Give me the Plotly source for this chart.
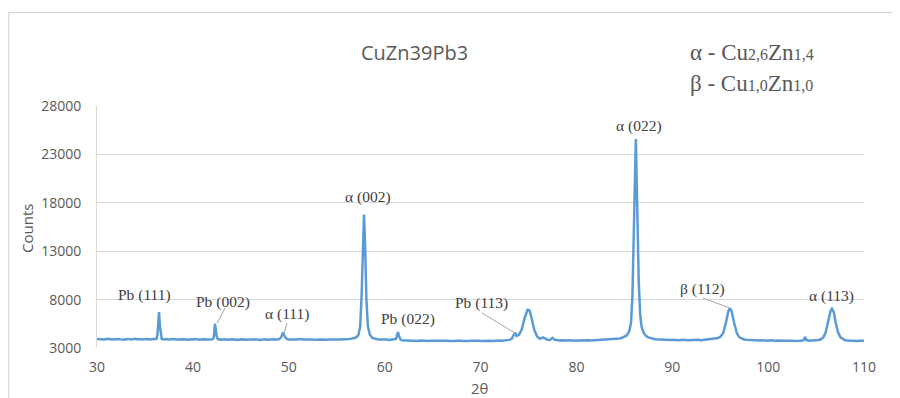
import plotly.graph_objects as go

# ---- data: (2θ, counts) ----
xrd_points = [
    (30.0, 3940), (30.25, 3900), (30.5, 3930), (30.75, 3880), (31.0, 3920), (31.25, 3950),
    (31.5, 3890), (31.75, 3910), (32.0, 3870), (32.25, 3930), (32.5, 3890), (32.75, 3860),
    (33.0, 3910), (33.25, 3940), (33.5, 3880), (33.75, 3900), (34.0, 3950), (34.25, 3880),
    (34.5, 3920), (34.75, 3870), (35.0, 3900), (35.25, 3930), (35.5, 3880), (35.75, 3910),
    (36.0, 3890), (36.2, 3950),
    (36.3, 4300), (36.4, 5600), (36.47, 6700), (36.55, 5400), (36.65, 4200), (36.75, 3930),
    (37.0, 3880), (37.25, 3920), (37.5, 3870), (37.75, 3900), (38.0, 3930), (38.25, 3870),
    (38.5, 3900), (38.75, 3860), (39.0, 3910), (39.25, 3880), (39.5, 3850), (39.75, 3900),
    (40.0, 3870), (40.25, 3920), (40.5, 3880), (40.75, 3860), (41.0, 3900), (41.25, 3870),
    (41.5, 3910), (41.75, 3880), (42.0, 3900), (42.15, 3980),
    (42.22, 4500), (42.3, 5500), (42.38, 5000), (42.48, 4200), (42.6, 3920),
    (42.75, 3880), (43.0, 3860), (43.25, 3900), (43.5, 3870), (43.75, 3850), (44.0, 3890),
    (44.25, 3860), (44.5, 3880), (44.75, 3840), (45.0, 3890), (45.25, 3860), (45.5, 3900),
    (45.75, 3850), (46.0, 3870), (46.25, 3890), (46.5, 3850), (46.75, 3880), (47.0, 3840),
    (47.25, 3870), (47.5, 3900), (47.75, 3850), (48.0, 3880), (48.25, 3860), (48.5, 3900),
    (48.75, 3870), (49.0, 3920), (49.2, 4100), (49.4, 4600), (49.6, 4150), (49.8, 3930),
    (50.0, 3880), (50.25, 3860), (50.5, 3900), (50.75, 3870), (51.0, 3890), (51.25, 3930),
    (51.5, 3880), (51.75, 3900), (52.0, 3940), (52.25, 3890), (52.5, 3870), (52.75, 3900),
    (53.0, 3860), (53.25, 3880), (53.5, 3850), (53.75, 3890), (54.0, 3860), (54.25, 3880),
    (54.5, 3850), (54.75, 3870), (55.0, 3890), (55.25, 3860), (55.5, 3880), (55.75, 3910),
    (56.0, 3890), (56.25, 3930), (56.5, 3950), (56.75, 4000), (57.0, 4080), (57.25, 4300),
    (57.45, 5200), (57.6, 8500), (57.72, 13000), (57.85, 16800), (57.98, 13000),
    (58.1, 8000), (58.25, 5300), (58.45, 4400), (58.7, 4050), (59.0, 3930), (59.25, 3900),
    (59.5, 3870), (59.75, 3890), (60.0, 3850), (60.25, 3870), (60.5, 3840), (60.75, 3880),
    (61.0, 3860), (61.2, 3950),
    (61.3, 4350), (61.4, 4650), (61.5, 4250), (61.65, 3880),
    (61.8, 3800), (62.0, 3790), (62.25, 3760), (62.5, 3780), (62.75, 3740), (63.0, 3770),
    (63.25, 3750), (63.5, 3730), (63.75, 3770), (64.0, 3740), (64.25, 3760), (64.5, 3720),
    (64.75, 3750), (65.0, 3730), (65.25, 3760), (65.5, 3720), (65.75, 3740), (66.0, 3760),
    (66.25, 3720), (66.5, 3750), (66.75, 3730), (67.0, 3760), (67.25, 3720), (67.5, 3740),
    (67.75, 3710), (68.0, 3750), (68.25, 3730), (68.5, 3760), (68.75, 3720), (69.0, 3740),
    (69.25, 3760), (69.5, 3730), (69.75, 3750), (70.0, 3720), (70.25, 3740), (70.5, 3760),
    (70.75, 3730), (71.0, 3750), (71.25, 3720), (71.5, 3760), (71.75, 3740), (72.0, 3770),
    (72.25, 3750), (72.5, 3780), (72.75, 3800), (73.0, 3840), (73.25, 3950), (73.45, 4250),
    (73.6, 4600), (73.75, 4250), (74.0, 4350), (74.3, 4900), (74.6, 6100), (74.9, 6950),
    (75.1, 6900), (75.35, 6000), (75.6, 4900), (75.9, 4200), (76.2, 3950), (76.5, 4100),
    (76.8, 3900), (77.0, 3860), (77.25, 3830), (77.5, 4050), (77.75, 3850), (78.0, 3800),
    (78.25, 3770), (78.5, 3790), (78.75, 3760), (79.0, 3780), (79.25, 3800), (79.5, 3770),
    (79.75, 3790), (80.0, 3760), (80.25, 3780), (80.5, 3800), (80.75, 3770), (81.0, 3790),
    (81.25, 3810), (81.5, 3780), (81.75, 3800), (82.0, 3790), (82.25, 3820), (82.5, 3800),
    (82.75, 3830), (83.0, 3840), (83.25, 3860), (83.5, 3870), (83.75, 3890), (84.0, 3920),
    (84.25, 3950), (84.5, 3990), (84.75, 4050), (85.0, 4150), (85.25, 4300), (85.5, 4700),
    (85.7, 5600), (85.85, 8500), (86.0, 14500), (86.2, 24600), (86.35, 17500),
    (86.5, 10000), (86.65, 6500), (86.8, 5200), (87.0, 4600), (87.25, 4250), (87.5, 4100),
    (87.75, 4000), (88.0, 3950), (88.25, 3900), (88.5, 3880), (88.75, 3860), (89.0, 3870),
    (89.25, 3840), (89.5, 3860), (89.75, 3830), (90.0, 3850), (90.25, 3820), (90.5, 3840),
    (90.75, 3810), (91.0, 3850), (91.25, 3820), (91.5, 3840), (91.75, 3810), (92.0, 3830),
    (92.25, 3850), (92.5, 3820), (92.75, 3840), (93.0, 3810), (93.25, 3840), (93.5, 3860),
    (93.75, 3840), (94.0, 3880), (94.25, 3900), (94.5, 3950), (94.75, 4030), (95.0, 4150),
    (95.3, 4500), (95.6, 5600), (95.85, 6800), (96.0, 7100), (96.2, 6800), (96.45, 5600),
    (96.75, 4500), (97.0, 4100), (97.25, 3950), (97.5, 3880), (97.75, 3850), (98.0, 3830),
    (98.25, 3800), (98.5, 3820), (98.75, 3790), (99.0, 3770), (99.25, 3800), (99.5, 3760),
    (99.75, 3780), (100.0, 3750), (100.25, 3790), (100.5, 3760), (100.75, 3740),
    (101.0, 3780), (101.25, 3750), (101.5, 3770), (101.75, 3740), (102.0, 3760),
    (102.25, 3780), (102.5, 3750), (102.75, 3730), (103.0, 3770), (103.25, 3740),
    (103.5, 3760), (103.7, 3800), (103.85, 4150), (104.0, 3820), (104.25, 3760),
    (104.5, 3780), (104.75, 3750), (105.0, 3790), (105.25, 3820), (105.5, 3900),
    (105.75, 4100), (106.0, 4600), (106.25, 5700), (106.5, 6800), (106.66, 7050),
    (106.85, 6700), (107.05, 5600), (107.3, 4600), (107.55, 4100), (107.8, 3900),
    (108.0, 3830), (108.25, 3780), (108.5, 3760), (108.75, 3740), (109.0, 3770),
    (109.25, 3730), (109.5, 3760), (109.75, 3740), (110.0, 3750),
]
two_theta = [p[0] for p in xrd_points]
counts = [p[1] for p in xrd_points]

title_text = "CuZn39Pb3"
x_ticks = [30, 40, 50, 60, 70, 80, 90, 100, 110]
y_ticks = [3000, 8000, 13000, 18000, 23000, 28000]
y_tick_text = ["3000", "8000", "13000", "18000", "23000", "28000"]

peak_labels = ["Pb (111)", "Pb (002)", "α (111)", "α (002)", "Pb (022)",
               "Pb (113)", "α (022)", "β (112)", "α (113)"]
label_x = [35.0, 43.14, 49.8, 58.27, 62.4, 70.15, 86.53, 93.2, 106.56]
label_y = [8475, 7750, 6510, 18600, 6000, 7650, 25930, 9100, 8370]

# leader lines from label to peak
leader_x0 = [43.35, 49.82, 70.16, 93.2]
leader_y0 = [7130, 5580, 6620, 8165]
leader_x1 = [42.55, 49.5, 73.6, 96.0]
leader_y1 = [5580, 4550, 4550, 7130]

fig = go.Figure()
fig.add_trace(go.Scatter(
    x=two_theta, y=counts, mode="lines",
    line=dict(color="#5B9BD5", width=2.5),
    showlegend=False, hoverinfo="skip",
))

annotations = []
for t, x, y in zip(peak_labels, label_x, label_y):
    annotations.append(dict(
        x=x, y=y, xref="x", yref="y", text=t, showarrow=False,
        font=dict(family="Liberation Serif", size=15.5, color="#404040"),
        xanchor="center", yanchor="middle",
    ))

# title
annotations.append(dict(
    x=0.4146, y=1.223, xref="paper", yref="paper", text=title_text, showarrow=False,
    font=dict(family="Open Sans", size=20, color="#595959"),
    xanchor="center", yanchor="middle",
))
# phase legend text
annotations.append(dict(
    x=0.7705, y=1.223, xref="paper", yref="paper",
    text="α - Cu<span style='font-size:16px'>2,6</span>Zn<span style='font-size:16px'>1,4</span>",
    showarrow=False, font=dict(family="Liberation Serif", size=23, color="#595959"),
    xanchor="left", yanchor="middle",
))
annotations.append(dict(
    x=0.7705, y=1.095, xref="paper", yref="paper",
    text="β - Cu<span style='font-size:16px'>1,0</span>Zn<span style='font-size:16px'>1,0</span>",
    showarrow=False, font=dict(family="Liberation Serif", size=23, color="#595959"),
    xanchor="left", yanchor="middle",
))
# axis titles
annotations.append(dict(
    x=-0.0913, y=0.496, xref="paper", yref="paper", text="Counts", showarrow=False,
    textangle=-90, font=dict(family="Open Sans", size=15, color="#595959"),
    xanchor="center", yanchor="middle",
))
annotations.append(dict(
    x=0.4993, y=-0.166, xref="paper", yref="paper", text="2θ", showarrow=False,
    font=dict(family="Open Sans", size=15, color="#595959"),
    xanchor="center", yanchor="middle",
))

shapes = []
for x0, y0, x1, y1 in zip(leader_x0, leader_y0, leader_x1, leader_y1):
    shapes.append(dict(type="line", xref="x", yref="y", x0=x0, y0=y0, x1=x1, y1=y1,
                       line=dict(color="#A6A6A6", width=1)))
# outer chart border
shapes.append(dict(type="rect", xref="paper", yref="paper",
                   x0=-0.115, y0=1.386, x1=1.06, y1=-0.256,
                   line=dict(color="#D9D9D9", width=1.2), layer="below"))

fig.update_layout(
    width=900, height=398,
    margin=dict(l=89, r=44, t=98, b=58),
    paper_bgcolor="white", plot_bgcolor="white",
    annotations=annotations, shapes=shapes,
    showlegend=False,
)
fig.update_xaxes(
    range=[30, 110], tickvals=x_ticks, showgrid=False, zeroline=False,
    showline=False, ticks="", ticklabelstandoff=9,
    tickfont=dict(family="Open Sans", size=14, color="#595959"),
)
fig.update_yaxes(
    range=[3000, 28000], tickvals=y_ticks, ticktext=y_tick_text,
    showgrid=True, gridcolor="#D9D9D9",
    gridwidth=1, zeroline=False, showline=True, linecolor="#D9D9D9", linewidth=1,
    ticks="", ticklabelstandoff=12,
    tickfont=dict(family="Open Sans", size=14, color="#595959"),
)

fig.write_html("out.html")
